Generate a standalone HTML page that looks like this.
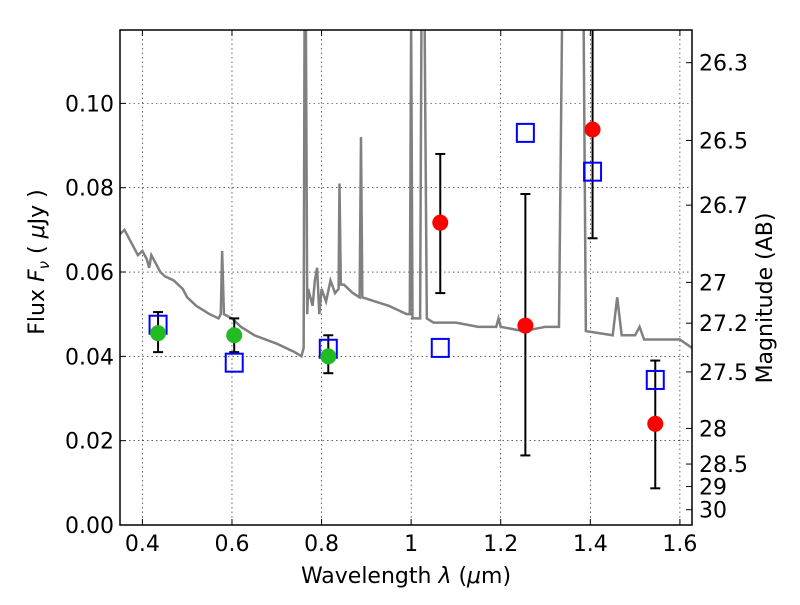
<!DOCTYPE html>
<html><head><meta charset="utf-8"><style>
body{margin:0;background:#fff;}
svg text{font-family:"DejaVu Sans","Liberation Sans",sans-serif;}
</style></head><body>
<svg id="chart" width="800" height="600" xmlns="http://www.w3.org/2000/svg"></svg>
<script>
const xTicks=[0.4,0.6,0.8,1.0,1.2,1.4,1.6];
const xTickLabels=["0.4","0.6","0.8","1","1.2","1.4","1.6"];
const yTicks=[0,0.02,0.04,0.06,0.08,0.10];
const yTickLabels=["0.00","0.02","0.04","0.06","0.08","0.10"];
const magTicks=[26.3,26.5,26.7,27,27.2,27.5,28,28.5,29,30];
const specLam=[0.35,0.36,0.37,0.38,0.39,0.40,0.41,0.415,0.42,0.43,0.44,0.45,0.47,0.49,0.50,0.52,0.55,0.57,0.575,0.578,0.582,0.60,0.62,0.65,0.70,0.74,0.755,0.76,0.762,0.765,0.768,0.77,0.78,0.785,0.79,0.795,0.80,0.81,0.82,0.83,0.838,0.84,0.843,0.85,0.87,0.885,0.888,0.891,0.92,0.95,0.99,0.997,1.0,1.003,1.02,1.023,1.026,1.03,1.035,1.05,1.1,1.15,1.19,1.195,1.2,1.25,1.3,1.33,1.337,1.38,1.385,1.39,1.45,1.46,1.47,1.5,1.51,1.52,1.6,1.627];
const specFlux=[0.069,0.070,0.068,0.066,0.064,0.065,0.063,0.061,0.064,0.062,0.060,0.059,0.058,0.056,0.054,0.052,0.050,0.049,0.050,0.065,0.050,0.049,0.047,0.045,0.043,0.041,0.040,0.042,0.12,0.12,0.05,0.056,0.052,0.058,0.061,0.050,0.056,0.053,0.058,0.055,0.056,0.081,0.057,0.057,0.055,0.054,0.092,0.054,0.053,0.052,0.050,0.050,0.12,0.049,0.049,0.12,0.12,0.12,0.049,0.048,0.048,0.047,0.047,0.049,0.047,0.046,0.047,0.047,0.12,0.12,0.12,0.046,0.045,0.054,0.045,0.045,0.047,0.044,0.044,0.042];
const greenLam=[0.435,0.605,0.815];
const greenFlux=[0.0455,0.045,0.040];
const greenLo=[0.041,0.041,0.036];
const greenHi=[0.0505,0.049,0.045];
const redLam=[1.065,1.255,1.405,1.545];
const redFlux=[0.0717,0.0473,0.0938,0.024];
const redLo=[0.055,0.0165,0.068,0.0087];
const redHi=[0.088,0.0785,0.125,0.039];
const blueLam=[0.435,0.605,0.815,1.065,1.255,1.405,1.545];
const blueFlux=[0.0475,0.0385,0.0418,0.042,0.093,0.0838,0.0344];

const L=120,R=692,T=30,B=525,XMIN=0.35,XMAX=1.627,YMIN=0,YMAX=0.1174;
const sx=v=>L+(v-XMIN)/(XMAX-XMIN)*(R-L);
const sy=v=>B-(v-YMIN)/(YMAX-YMIN)*(B-T);
const NS="http://www.w3.org/2000/svg";
const svg=document.getElementById('chart');
function mk(tag,attrs,parent){const e=document.createElementNS(NS,tag);for(const k in attrs)e.setAttribute(k,attrs[k]);(parent||svg).appendChild(e);return e;}
const defs=mk('defs',{});const cp=mk('clipPath',{id:'clip'},defs);mk('rect',{x:L,y:T,width:R-L,height:B-T},cp);
xTicks.forEach((v,i)=>{const x=sx(v);
 const g=mk('line',{x1:x,x2:x,y1:T,y2:B,stroke:'#000','stroke-width':0.6,'stroke-dasharray':'1.5,3'});
 
 mk('line',{x1:x,x2:x,y1:B,y2:B-6,stroke:'#000'});mk('line',{x1:x,x2:x,y1:T,y2:T+6,stroke:'#000'});
 const t=mk('text',{x:x,y:B+26,'text-anchor':'middle','font-size':22});t.textContent=xTickLabels[i];
 });
yTicks.forEach((v,i)=>{const y=sy(v);
 const g=mk('line',{x1:L,x2:R,y1:y,y2:y,stroke:'#000','stroke-width':0.6,'stroke-dasharray':'1.5,3'});
 
 mk('line',{x1:L,x2:L+6,y1:y,y2:y,stroke:'#000'});
 const t=mk('text',{x:L-6,y:y+8,'text-anchor':'end','font-size':22});t.textContent=yTickLabels[i];
 });
magTicks.forEach(m=>{const f=Math.pow(10,(23.9-m)/2.5);const y=sy(f);
 mk('line',{x1:R,x2:R-6,y1:y,y2:y,stroke:'#000'});
 const t=mk('text',{x:R+7,y:y+8,'font-size':22});t.textContent=String(m);
 });
const sp=mk('polyline',{points:specLam.map((l,i)=>sx(l)+','+sy(specFlux[i])).join(' '),fill:'none',stroke:'#808080','stroke-width':2.5,'clip-path':'url(#clip)'});

function eb(lam,lo,hi){const x=sx(lam);
 const g=mk('g',{'clip-path':'url(#clip)'});
 
 mk('line',{x1:x,x2:x,y1:sy(lo),y2:sy(hi),stroke:'#000','stroke-width':2},g);
 mk('line',{x1:x-5,x2:x+5,y1:sy(lo),y2:sy(lo),stroke:'#000','stroke-width':2},g);
 mk('line',{x1:x-5,x2:x+5,y1:sy(hi),y2:sy(hi),stroke:'#000','stroke-width':2},g);}
greenLam.forEach((l,i)=>eb(l,greenLo[i],greenHi[i]));
redLam.forEach((l,i)=>eb(l,redLo[i],redHi[i]));
blueLam.forEach((l,i)=>{const r=mk('rect',{x:sx(l)-8.5,y:sy(blueFlux[i])-9,width:17,height:18,fill:'none',stroke:'#0000ff','stroke-width':2});
 });
greenLam.forEach((l,i)=>{const c=mk('ellipse',{cx:sx(l),cy:sy(greenFlux[i]),rx:8,ry:8,fill:'#22bb22'});
 });
redLam.forEach((l,i)=>{const c=mk('ellipse',{cx:sx(l),cy:sy(redFlux[i]),rx:8,ry:8,fill:'#ff0000'});
 });
const fr=mk('rect',{x:L,y:T,width:R-L,height:B-T,fill:'none',stroke:'#000','stroke-width':1.5});

const xl=mk('text',{x:406,y:583,'text-anchor':'middle','font-size':22,'xml:space':'preserve'});
xl.innerHTML='Wavelength  <tspan font-style="italic">λ</tspan> (<tspan font-style="italic">μ</tspan>m)';

const yl=mk('text',{x:0,y:0,'text-anchor':'middle','font-size':22,transform:'translate(44,262) rotate(-90)'});
yl.innerHTML='Flux  <tspan font-style="italic">F</tspan><tspan font-style="italic" font-size="15" dy="5">ν</tspan><tspan dy="-5">  (  </tspan><tspan font-style="italic">μ</tspan>Jy )';

const rl=mk('text',{x:0,y:0,'text-anchor':'middle','font-size':22,transform:'translate(772,298) rotate(-90)'});
rl.textContent='Magnitude (AB)';

</script>
</body></html>
